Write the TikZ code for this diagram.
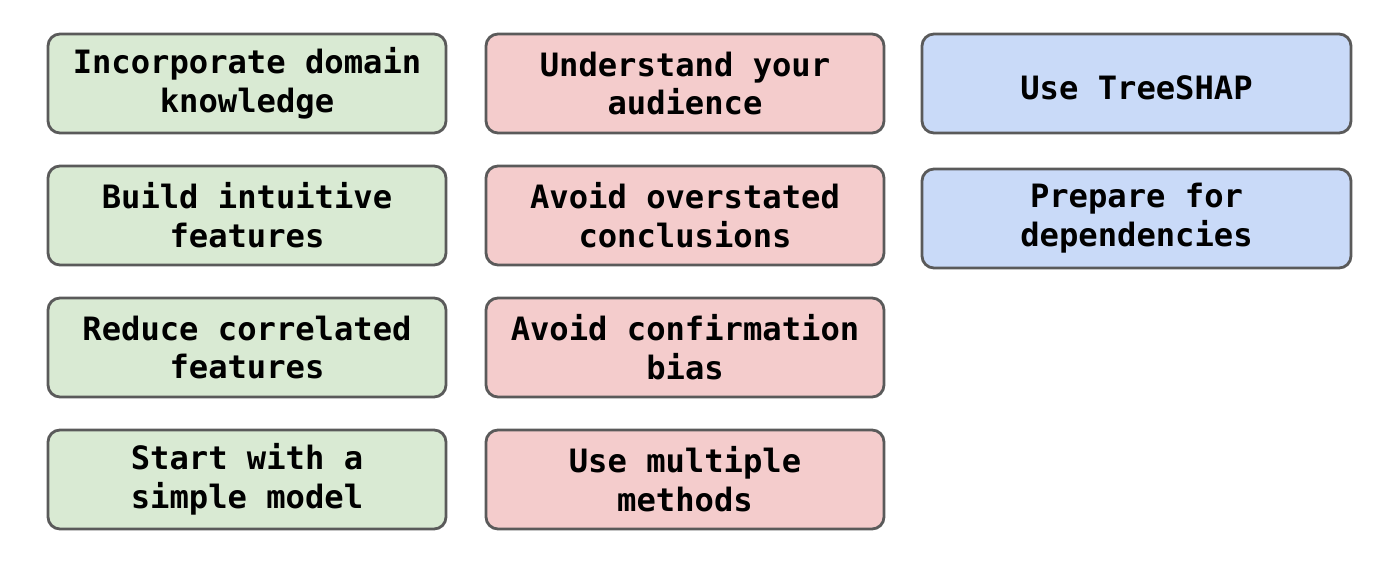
\documentclass[tikz,border=0pt]{standalone}
\usepackage{fontspec}
\setmonofont{DejaVu Sans Mono}
\usepackage{tikz}
\definecolor{tipgreen}{HTML}{D9EAD3}
\definecolor{tipred}{HTML}{F4CCCC}
\definecolor{tipblue}{HTML}{C9DAF8}
\definecolor{tipedge}{HTML}{5A5A5A}

\begin{document}
\begin{tikzpicture}[tip/.style = {draw=tipedge, line width=1.6pt, rounded corners=0.24cm, minimum width=7.96cm, minimum height=1.98cm, align=center, font=\ttfamily\bfseries\fontsize{18.3}{22.1}\selectfont, execute at begin node={\rule{0pt}{18.5pt}}},
	green/.style = {tip, fill=tipgreen},
	red/.style = {tip, fill=tipred},
	blue/.style = {tip, fill=tipblue, minimum width=8.58cm}]
	\useasboundingbox (0,0) rectangle (28,-11.44);
	\node[green] (domain) at (4.94,-1.67){Incorporate domain\\knowledge};
	\node[green] (intuitive) at (4.94,-4.31){Build intuitive\\features};
	\node[green] (correlated) at (4.94,-6.95){Reduce correlated\\features};
	\node[green] (simple) at (4.94,-9.59){Start with a\\simple model};
	\node[red] (audience) at (13.70,-1.67){Understand your\\audience};
	\node[red] (overstated) at (13.70,-4.31){Avoid overstated\\conclusions};
	\node[red] (confirmation) at (13.70,-6.95){Avoid confirmation\\bias};
	\node[red] (multiple) at (13.70,-9.59){Use multiple\\methods};
	\node[blue] (treeshap) at (22.73,-1.67){Use TreeSHAP};
	\node[blue] (dependencies) at (22.73,-4.37){Prepare for\\dependencies};
\end{tikzpicture}
\end{document}
